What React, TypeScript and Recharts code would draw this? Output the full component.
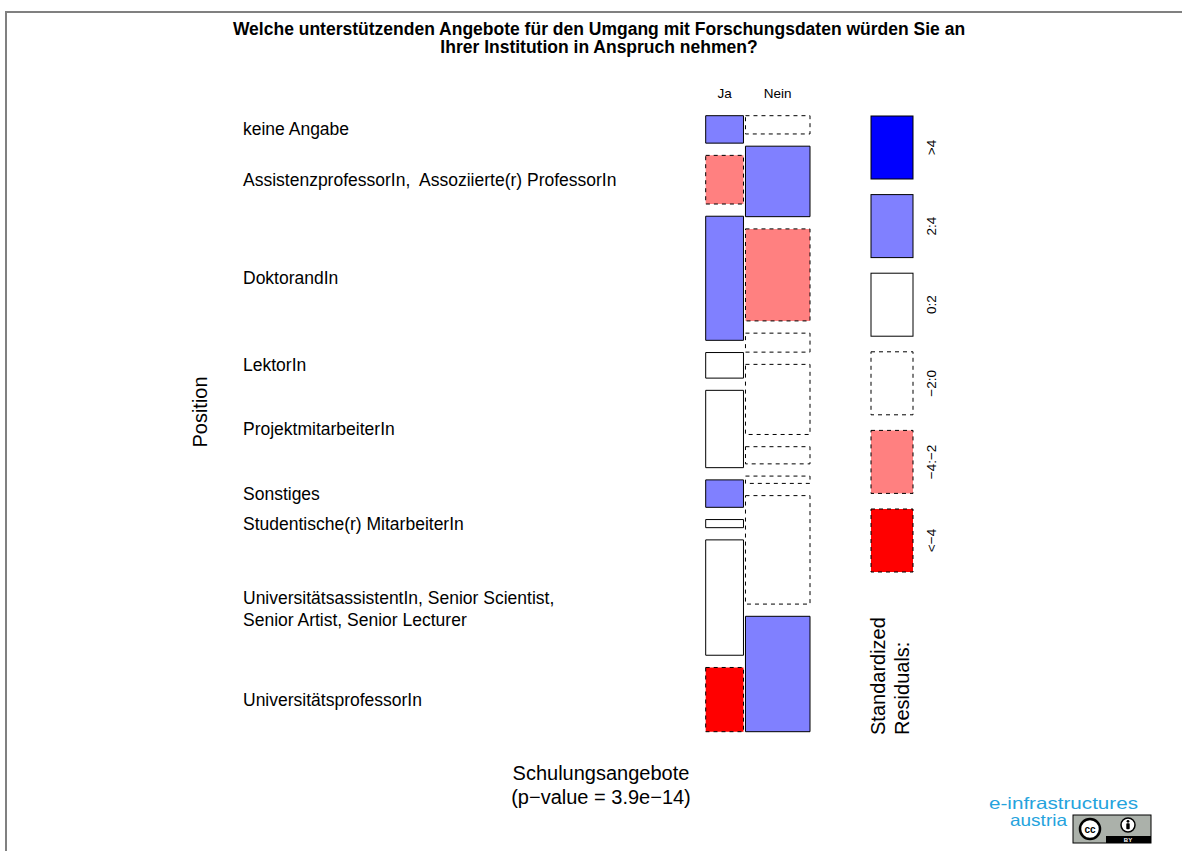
import React from "react";
import { ComposedChart, XAxis, YAxis, ReferenceArea } from "recharts";

// ---- data ----
const positions = [
  "keine Angabe",
  "AssistenzprofessorIn,  Assoziierte(r) ProfessorIn",
  "DoktorandIn",
  "LektorIn",
  "ProjektmitarbeiterIn",
  "Sonstiges",
  "Studentische(r) MitarbeiterIn",
  "UniversitätsassistentIn, Senior Scientist,\nSenior Artist, Senior Lecturer",
  "UniversitätsprofessorIn",
];
const answers = ["Ja", "Nein"];
const jaCounts = [4.4, 7.8, 19.9, 4.1, 12.4, 4.4, 1.3, 18.5, 10.3];
const neinCounts = [5.0, 19.3, 25.2, 5.2, 19.2, 4.7, 2.0, 29.7, 31.6];
const jaResiduals = [2.6, -2.5, 3.1, 1.0, 1.2, 2.3, 0.8, 1.5, -4.4];
const neinResiduals = [-1.9, 2.1, -2.4, -0.8, -0.9, -1.8, -0.6, -1.2, 3.4];
const legendLabels = [">4", "2:4", "0:2", "\u22122:0", "\u22124:\u22122", "<\u22124"];
const legendResiduals = [5, 3, 1, -1, -3, -5];

const title1 = "Welche unterstützenden Angebote für den Umgang mit Forschungsdaten würden Sie an";
const title2 = "Ihrer Institution in Anspruch nehmen?";
const xVarName = "Schulungsangebote";
const pValueText = "(p\u2212value = 3.9e\u221214)";
const yVarName = "Position";

// ---- layout (data units) ----
const X_GAP = 4.4;
const Y_GAP = 2.36;
const sum = (a: number[]) => a.reduce((s, v) => s + v, 0);
const jaTotal = sum(jaCounts);
const neinTotal = sum(neinCounts);
const xMax = jaTotal + X_GAP + neinTotal;
const yMax = 100 + (positions.length - 1) * Y_GAP;

type Cell = { col: number; row: number; x1: number; x2: number; y1: number; y2: number; r: number };
function buildCells(): Cell[] {
  const out: Cell[] = [];
  const cols = [
    { counts: jaCounts, res: jaResiduals, x1: 0, x2: jaTotal, tot: jaTotal },
    { counts: neinCounts, res: neinResiduals, x1: jaTotal + X_GAP, x2: xMax, tot: neinTotal },
  ];
  cols.forEach((c, ci) => {
    let y = 0;
    c.counts.forEach((v, i) => {
      const h = (v / c.tot) * 100;
      out.push({ col: ci, row: i, x1: c.x1, x2: c.x2, y1: y, y2: y + h, r: c.res[i] });
      y += h + Y_GAP;
    });
  });
  return out;
}
const cells = buildCells();

function shade(r: number) {
  if (r > 4) return { fill: "#0000FF", dash: undefined };
  if (r > 2) return { fill: "#8080FF", dash: undefined };
  if (r >= 0) return { fill: "#FFFFFF", dash: undefined };
  if (r >= -2) return { fill: "#FFFFFF", dash: "4 4" };
  if (r >= -4) return { fill: "#FF8080", dash: "4 4" };
  return { fill: "#FF0000", dash: "4 4" };
}

const FONT = "'Liberation Sans', Arial, Helvetica, sans-serif";
const W = 1182;
const H = 851;
const PLOT = { left: 705.7, right: 810, top: 115.7, bottom: 731.7 };

const RowLabel = (props: any) => {
  const { viewBox, value } = props;
  if (!viewBox) return null;
  const cy = viewBox.y + viewBox.height / 2;
  const lines = String(value).split("\n");
  return (
    <text x={243} y={cy + 6} fontFamily={FONT} fontSize={17.5} fill="#000" style={{ whiteSpace: "pre" }}>
      {lines.map((l, i) => (
        <tspan key={i} x={243} dy={i === 0 ? 0 : 22}>
          {l}
        </tspan>
      ))}
    </text>
  );
};

const ColLabel = (props: any) => {
  const { viewBox, value } = props;
  if (!viewBox) return null;
  return (
    <text x={viewBox.x + viewBox.width / 2} y={98} textAnchor="middle" fontFamily={FONT} fontSize={13.5} fill="#000">
      {value}
    </text>
  );
};

function Legend() {
  const x = 871;
  const w = 42;
  const h = 63;
  const top = 116;
  const step = 78.6;
  return (
    <g>
      {legendResiduals.map((r, i) => {
        const s = shade(r);
        const y = top + i * step;
        return (
          <g key={i}>
            <rect x={x} y={y} width={w} height={h} fill={s.fill} stroke="#000" strokeWidth={1} strokeDasharray={s.dash} />
            <text
              transform={`translate(931, ${y + h / 2}) rotate(-90)`}
              textAnchor="middle"
              dominantBaseline="central"
              fontFamily={FONT}
              fontSize={13.5}
              fill="#000"
            >
              {legendLabels[i]}
            </text>
          </g>
        );
      })}
      <text transform="translate(878, 735) rotate(-90)" dominantBaseline="central" fontFamily={FONT} fontSize={20} fill="#000">
        Standardized
      </text>
      <text transform="translate(902, 735) rotate(-90)" dominantBaseline="central" fontFamily={FONT} fontSize={20} fill="#000">
        Residuals:
      </text>
    </g>
  );
}

function Logo() {
  const c = "#25A3DD";
  return (
    <g>
      <text x={989} y={809} fontFamily={FONT} fontSize={16.5} fill={c} textLength={149} lengthAdjust="spacingAndGlyphs">
        e-infrastructures
      </text>
      <text x={1010} y={826} fontFamily={FONT} fontSize={16.5} fill={c} textLength={57} lengthAdjust="spacingAndGlyphs">
        austria
      </text>
      <rect x={1073} y={815} width={78} height={28} fill="#abb1aa" stroke="#000" strokeWidth={1} />
      <rect x={1106} y={836} width={45} height={7} fill="#000" />
      <text x={1128} y={842} textAnchor="middle" fontFamily={FONT} fontSize={6} fontWeight="bold" fill="#fff">
        BY
      </text>
      <circle cx={1090} cy={829} r={10} fill="#fff" stroke="#000" strokeWidth={2.5} />
      <text x={1090} y={833} textAnchor="middle" fontFamily={FONT} fontSize={10} fontWeight="bold" fill="#000">
        cc
      </text>
      <circle cx={1128} cy={825} r={7} fill="#fff" stroke="#000" strokeWidth={1.5} />
      <circle cx={1128} cy={821.3} r={1.4} fill="#000" />
      <rect x={1126.3} y={823.3} width={3.4} height={6} rx={0.8} fill="#000" />
    </g>
  );
}

export default function App() {
  return (
    <div style={{ position: "absolute", left: 0, top: 0, width: W, height: H, background: "#fff", overflow: "hidden" }}>
      <ComposedChart
        width={W}
        height={H}
        data={cells}
        margin={{ top: PLOT.top, left: PLOT.left, right: W - PLOT.right, bottom: H - PLOT.bottom }}
      >
        <XAxis type="number" dataKey="x1" domain={[0, xMax]} hide height={0} allowDataOverflow />
        <YAxis type="number" dataKey="y1" domain={[0, yMax]} reversed hide width={0} allowDataOverflow />
        {cells.map((c, i) => {
          const s = shade(c.r);
          return (
            <ReferenceArea
              key={i}
              x1={c.x1}
              x2={c.x2}
              y1={c.y1}
              y2={c.y2}
              fill={s.fill}
              fillOpacity={1}
              stroke="#000"
              strokeWidth={1}
              strokeDasharray={s.dash}
              ifOverflow="visible"
              label={c.col === 0 ? <RowLabel value={positions[c.row]} /> : undefined}
            />
          );
        })}
        {[0, 1].map((ci) => (
          <ReferenceArea
            key={"hdr" + ci}
            x1={ci === 0 ? 0 : jaTotal + X_GAP}
            x2={ci === 0 ? jaTotal : xMax}
            y1={0}
            y2={0}
            fillOpacity={0}
            strokeOpacity={0}
            ifOverflow="visible"
            label={<ColLabel value={answers[ci]} />}
          />
        ))}
        <g>
          <line x1={5} y1={12} x2={W} y2={12} stroke="#808080" strokeWidth={2} />
          <line x1={6} y1={11} x2={6} y2={H} stroke="#808080" strokeWidth={2} />
          <text x={599} y={35} textAnchor="middle" fontFamily={FONT} fontSize={17.5} fontWeight="bold" fill="#000">
            {title1}
          </text>
          <text x={599} y={53} textAnchor="middle" fontFamily={FONT} fontSize={17.5} fontWeight="bold" fill="#000">
            {title2}
          </text>
          <text transform="translate(200, 412) rotate(-90)" textAnchor="middle" dominantBaseline="central" fontFamily={FONT} fontSize={20} fill="#000">
            {yVarName}
          </text>
          <text x={601} y={780} textAnchor="middle" fontFamily={FONT} fontSize={20} fill="#000">
            {xVarName}
          </text>
          <text x={601} y={804} textAnchor="middle" fontFamily={FONT} fontSize={20} fill="#000">
            {pValueText}
          </text>
          <Legend />
          <Logo />
        </g>
      </ComposedChart>
    </div>
  );
}
